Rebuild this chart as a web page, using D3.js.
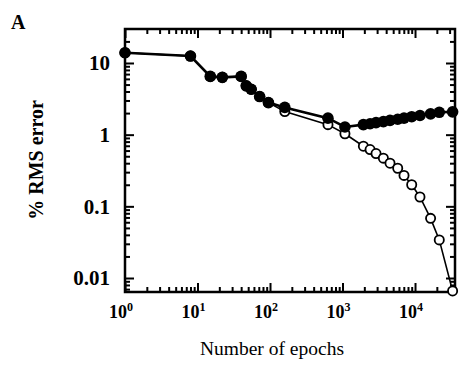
<!DOCTYPE html>
<html><head><meta charset="utf-8">
<script src="https://cdn.jsdelivr.net/npm/d3@7"></script>
<style>body{margin:0;background:#fff}svg{display:block}</style></head>
<body>
<svg id="c" width="461" height="368"></svg>
<script>
// ---- data ----
const epochs = [1, 8, 15, 22, 40, 47, 55, 72, 95, 160, 630, 1080,
  1940, 2400, 2900, 3660, 4520, 5770, 7050, 9000, 11700, 16400, 21600, 33000];
const filledErr = [13.9, 12.5, 6.5, 6.3, 6.5, 4.8, 4.3, 3.4, 2.8, 2.4, 1.7, 1.28,
  1.38, 1.42, 1.47, 1.52, 1.58, 1.64, 1.70, 1.78, 1.85, 1.95, 2.05, 2.08];
const openErr = [13.9, 12.5, 6.5, 6.3, 6.5, 4.8, 4.3, 3.4, 2.8, 2.1, 1.38, 1.03,
  0.69, 0.62, 0.545, 0.47, 0.40, 0.34, 0.27, 0.20, 0.135, 0.068, 0.034, 0.0066];
const xMajorTicks = [1, 10, 100, 1000, 10000];
const xTickExps = ["0", "1", "2", "3", "4"];
const yMajorTicks = [10, 1, 0.1, 0.01];
const yTickLabels = ["10", "1", "0.1", "0.01"];
const xTitle = "Number of epochs";
const yTitle = "% RMS error";
const panelLabel = "A";

// ---- layout ----
const L = 125, R = 455, T = 29, B = 292;
const svg = d3.select("#c");
const x = d3.scaleLog().domain([1, 35600]).range([L, R]);
const y = d3.scaleLog().domain([0.00638, 29.8]).range([B, T]);

const minorX = [];
for (let d = 1; d <= 10000; d *= 10) for (let k = 2; k <= 9; k++) if (d * k <= 35600) minorX.push(d * k);
const minorY = [];
for (let d = 0.001; d <= 10; d *= 10) for (let k = 2; k <= 9; k++) { const v = +(d * k).toPrecision(3); if (v >= 0.00638 && v <= 29.8) minorY.push(v); }

const font = "'Liberation Serif','Times New Roman',serif";

function tickAxis(axisFn, scale, vals, size, transform) {
  const g = svg.append("g").attr("transform", transform)
    .call(axisFn(scale).tickValues(vals).tickSize(size).tickFormat(""));
  g.select(".domain").remove();
  g.selectAll(".tick line").attr("stroke", "#000").attr("stroke-width", 2);
  return g;
}
// inward ticks on all four sides
tickAxis(d3.axisBottom, x, xMajorTicks, -9, `translate(0,${B})`);
tickAxis(d3.axisBottom, x, minorX, -5, `translate(0,${B})`);
tickAxis(d3.axisTop, x, xMajorTicks, -9, `translate(0,${T})`);
tickAxis(d3.axisTop, x, minorX, -5, `translate(0,${T})`);
tickAxis(d3.axisLeft, y, yMajorTicks, -9, `translate(${L},0)`);
tickAxis(d3.axisLeft, y, minorY, -5, `translate(${L},0)`);
tickAxis(d3.axisRight, y, yMajorTicks, -9, `translate(${R},0)`);
tickAxis(d3.axisRight, y, minorY, -5, `translate(${R},0)`);

// frame
svg.append("rect").attr("x", L).attr("y", T).attr("width", R - L).attr("height", B - T)
  .attr("fill", "none").attr("stroke", "#000").attr("stroke-width", 2.5);

// tick labels
const xl = svg.append("g").attr("font-family", font).attr("font-size", 18).attr("font-weight", "bold").attr("fill", "#000");
xMajorTicks.forEach((v, i) => {
  const t = xl.append("text").attr("x", x(v) - 4).attr("y", 318).attr("text-anchor", "middle");
  t.append("tspan").text("10");
  t.append("tspan").attr("dy", -7).attr("font-size", 12).text(xTickExps[i]);
});
const yl = svg.append("g").attr("font-family", font).attr("font-size", 21).attr("font-weight", "bold").attr("fill", "#000");
yMajorTicks.forEach((v, i) => {
  yl.append("text").attr("x", L - 15).attr("y", y(v)).attr("dy", "0.35em")
    .attr("text-anchor", "end").text(yTickLabels[i]);
});

// titles
svg.append("text").attr("x", 272).attr("y", 355).attr("text-anchor", "middle")
  .attr("font-family", font).attr("font-size", 19.5).text(xTitle);
svg.append("text").attr("transform", `translate(43,160) rotate(-90)`).attr("text-anchor", "middle")
  .attr("font-family", font).attr("font-size", 20).attr("font-weight", "bold").text(yTitle);
svg.append("text").attr("x", 11).attr("y", 29).attr("font-family", font).attr("font-size", 20)
  .attr("font-weight", "bold").text(panelLabel);

// data
const line = (vals) => d3.line().x((d, i) => x(epochs[i])).y(d => y(d))(vals);
svg.append("path").attr("d", line(openErr)).attr("fill", "none").attr("stroke", "#000").attr("stroke-width", 1.6);
svg.append("g").selectAll("circle").data(openErr).join("circle")
  .attr("cx", (d, i) => x(epochs[i])).attr("cy", d => y(d)).attr("r", 4.6)
  .attr("fill", "#fff").attr("stroke", "#000").attr("stroke-width", 1.8);
svg.append("path").attr("d", line(filledErr)).attr("fill", "none").attr("stroke", "#000").attr("stroke-width", 2.6);
svg.append("g").selectAll("circle").data(filledErr).join("circle")
  .attr("cx", (d, i) => x(epochs[i])).attr("cy", d => y(d)).attr("r", 5.8).attr("fill", "#000");
</script>
</body></html>
